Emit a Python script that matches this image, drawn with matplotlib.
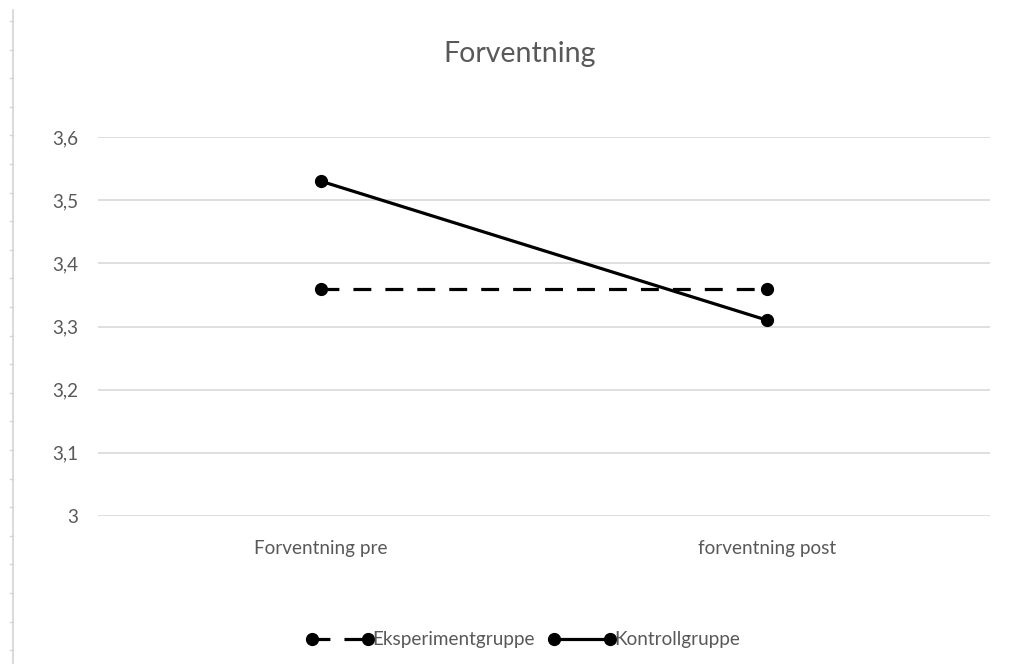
import matplotlib
matplotlib.use("Agg")
import matplotlib.pyplot as plt
from matplotlib.lines import Line2D
import numpy as np

plt.rcParams['font.family'] = ['Lato', 'DejaVu Sans']

categories = ["Forventning pre", "forventning post"]
eksperiment = [3.36, 3.36]
kontroll = [3.53, 3.31]
y_ticks = [3.0, 3.1, 3.2, 3.3, 3.4, 3.5, 3.6]
y_tick_labels = ["3", "3,1", "3,2", "3,3", "3,4", "3,5", "3,6"]

W, H = 1018, 664
fig = plt.figure(figsize=(W / 100, H / 100), dpi=100)
ax = fig.add_axes([98 / W, (H - 516) / H, (990 - 98) / W, (516 - 137) / H])

text_color = "#595959"
label_size = 13.6
x = np.arange(len(categories))

ax.plot(x, eksperiment, color="black", lw=2.3, marker="o", markersize=8.5,
        linestyle=(0, (5.6, 4.4)), label="Eksperimentgruppe", zorder=3)
ax.plot(x, kontroll, color="black", lw=2.3, marker="o", markersize=8.5,
        linestyle="-", label="Kontrollgruppe", zorder=3)

ax.set_xlim(-0.5, len(categories) - 0.5)
ax.set_ylim(3.0, 3.6)
ax.set_yticks(y_ticks)
ax.set_yticklabels(y_tick_labels)
ax.set_xticks(x)
ax.set_xticklabels(categories)
ax.yaxis.grid(True, color="#d9d9d9", lw=1.2)
ax.set_axisbelow(True)
for s in ax.spines.values():
    s.set_visible(False)
ax.tick_params(axis="both", length=0, labelsize=label_size, colors=text_color)
ax.tick_params(axis="y", pad=14)
ax.tick_params(axis="x", pad=17)

fig.text(520 / W, 1 - 54 / H, "Forventning", ha="center", va="center",
         fontsize=20.5, color=text_color)

leg = fig.legend(loc="center", bbox_to_anchor=(523 / W, 1 - 640 / H), ncol=2,
                 frameon=False, handlelength=3.6, handletextpad=-0.1,
                 columnspacing=0.7, numpoints=2, fontsize=label_size)
for t in leg.get_texts():
    t.set_color(text_color)

# page edge ruler on the left
fig.add_artist(Line2D([12.7 / W, 12.7 / W], [0, 1 - 10 / H], color="#d4d4d4", lw=1.2))
for yy in np.arange(21, H, 28.6):
    fig.add_artist(Line2D([9.5 / W, 12.7 / W], [1 - yy / H, 1 - yy / H],
                          color="#d4d4d4", lw=1.0))

fig.savefig("out.png", dpi=100)
